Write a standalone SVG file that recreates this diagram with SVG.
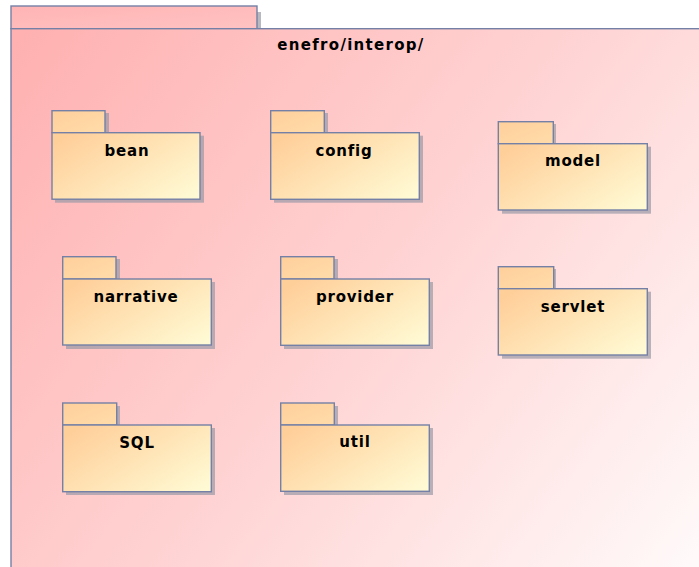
<svg xmlns="http://www.w3.org/2000/svg" width="699" height="567" viewBox="0 0 699 567">
  <style>
    .frame { stroke: #7480a6; stroke-width: 1.4; }
    .pkg-tab { fill: url(#pkgTab); }
    .pkg-body { fill: url(#pkgBody); }
    .shadow { fill: #9a9aa6; opacity: 0.7; }
    .label { font-family: "DejaVu Sans", Verdana, sans-serif; font-weight: bold; font-size: 15px; letter-spacing: 0.8px; fill: #000; text-anchor: middle; }
    .title { letter-spacing: 1.3px; }
  </style>
  <defs>
    <linearGradient id="outerBody" gradientUnits="userSpaceOnUse" x1="11" y1="29" x2="699" y2="567">
      <stop offset="0" stop-color="#ffb0b0"/>
      <stop offset="0.5" stop-color="#ffd2d2"/>
      <stop offset="1" stop-color="#fffafa"/>
    </linearGradient>
    <linearGradient id="outerTab" x1="0" y1="0" x2="1" y2="1">
      <stop offset="0" stop-color="#ffb4b4"/>
      <stop offset="1" stop-color="#ffc2c2"/>
    </linearGradient>
    <linearGradient id="pkgBody" x1="0" y1="0.2" x2="1" y2="0.9">
      <stop offset="0" stop-color="#ffcf9a"/>
      <stop offset="1" stop-color="#fffad4"/>
    </linearGradient>
    <linearGradient id="pkgTab" x1="0" y1="0" x2="1" y2="1">
      <stop offset="0" stop-color="#ffcf9b"/>
      <stop offset="1" stop-color="#ffdcaa"/>
    </linearGradient>
  </defs>

  <!-- enclosing package enefro/interop/ -->
  <g id="interop">
    <rect class="shadow" x="257" y="12" width="4" height="17"/>
    <rect class="frame" x="11" y="6" width="246" height="22.7" fill="url(#outerTab)"/>
    <rect class="frame" x="11" y="28.7" width="700" height="560" fill="url(#outerBody)"/>
    <text class="label title" x="351" y="50">enefro/interop/</text>
  </g>

  <g id="bean">
    <rect class="shadow" x="55" y="113" width="54" height="20"/>
    <rect class="shadow" x="55" y="135.7" width="149" height="67"/>
    <rect class="frame pkg-tab" x="52" y="110.7" width="53" height="22"/>
    <rect class="frame pkg-body" x="52" y="132.7" width="148" height="66.5"/>
    <text class="label" x="127" y="156">bean</text>
  </g>

  <g id="config">
    <rect class="shadow" x="274" y="113" width="54" height="20"/>
    <rect class="shadow" x="274" y="135.7" width="149" height="67"/>
    <rect class="frame pkg-tab" x="270.7" y="110.7" width="53.6" height="22"/>
    <rect class="frame pkg-body" x="270.7" y="132.7" width="148.6" height="66.6"/>
    <text class="label" x="344" y="156">config</text>
  </g>

  <g id="model">
    <rect class="shadow" x="502" y="124" width="54" height="20"/>
    <rect class="shadow" x="502" y="146.7" width="149" height="67"/>
    <rect class="frame pkg-tab" x="498.3" y="121.7" width="55" height="22"/>
    <rect class="frame pkg-body" x="498.3" y="143.7" width="149" height="66.3"/>
    <text class="label" x="573" y="166">model</text>
  </g>

  <g id="narrative">
    <rect class="shadow" x="66" y="259" width="54" height="20"/>
    <rect class="shadow" x="66" y="282" width="149" height="67"/>
    <rect class="frame pkg-tab" x="62.7" y="256.7" width="53.3" height="22.3"/>
    <rect class="frame pkg-body" x="62.7" y="279" width="148.6" height="66"/>
    <text class="label" x="136" y="302">narrative</text>
  </g>

  <g id="provider">
    <rect class="shadow" x="284" y="259" width="54" height="20"/>
    <rect class="shadow" x="284" y="282" width="149" height="67"/>
    <rect class="frame pkg-tab" x="280.7" y="256.7" width="53.3" height="22.3"/>
    <rect class="frame pkg-body" x="280.7" y="279" width="148.6" height="66.3"/>
    <text class="label" x="355" y="302">provider</text>
  </g>

  <g id="servlet">
    <rect class="shadow" x="502" y="269" width="54" height="20"/>
    <rect class="shadow" x="502" y="291.7" width="149" height="67"/>
    <rect class="frame pkg-tab" x="498.3" y="266.7" width="55.4" height="22"/>
    <rect class="frame pkg-body" x="498.3" y="288.7" width="149" height="66.3"/>
    <text class="label" x="573" y="312">servlet</text>
  </g>

  <g id="SQL">
    <rect class="shadow" x="66" y="406" width="54" height="20"/>
    <rect class="shadow" x="66" y="428" width="149" height="67"/>
    <rect class="frame pkg-tab" x="62.7" y="403" width="54" height="22"/>
    <rect class="frame pkg-body" x="62.7" y="425" width="148.6" height="66.7"/>
    <text class="label" x="137" y="448">SQL</text>
  </g>

  <g id="util">
    <rect class="shadow" x="284" y="406" width="54" height="20"/>
    <rect class="shadow" x="284" y="428" width="149" height="67"/>
    <rect class="frame pkg-tab" x="280.7" y="403" width="53.6" height="22"/>
    <rect class="frame pkg-body" x="280.7" y="425" width="148.6" height="66.3"/>
    <text class="label" x="355" y="447">util</text>
  </g>

  <!-- no dependencies are drawn between these packages -->
  <g id="connectors"/>
</svg>
